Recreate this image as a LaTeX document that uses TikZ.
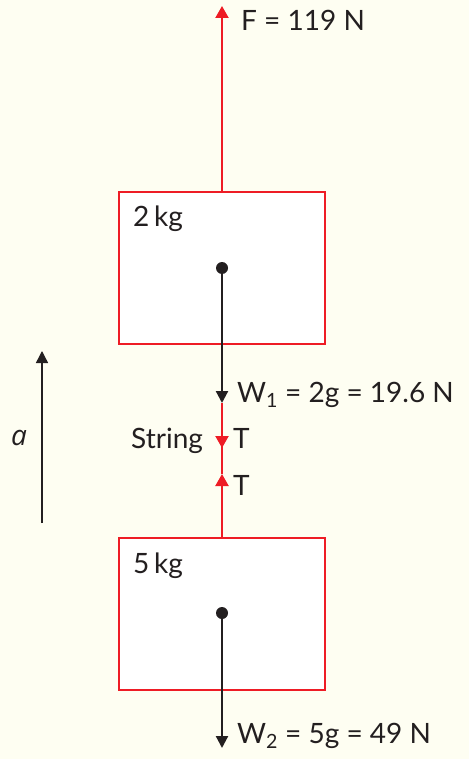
\documentclass[tikz,border=0pt]{standalone}
\usepackage{fontspec}
\setmainfont{Lato}
\newfontfamily\afont{Open Sans}
\usetikzlibrary{arrows.meta}
\definecolor{bg}{HTML}{FEFEF2}
\definecolor{fred}{HTML}{EE1C25}
\definecolor{ink}{HTML}{231F20}
\tikzset{
  boxnode/.style={draw=fred, line width=2.6pt, fill=white, minimum width=206pt, minimum height=152pt, inner sep=0pt},
  dotnode/.style={circle, fill=ink, minimum size=12pt, inner sep=0pt},
  lbl/.style={text=ink, inner sep=0pt, anchor=base west, font=\fontsize{28}{30}\selectfont},
  redarrow/.style={draw=fred, line width=2.2pt, -{Triangle[width=13pt,length=12pt]}},
  blkarrow/.style={draw=ink, line width=2.2pt, -{Triangle[width=12pt,length=12pt]}},
  redline/.style={draw=fred, line width=2.2pt},
}
\begin{document}
\begin{tikzpicture}[x=1pt,y=-1pt]
\fill[bg] (0,0) rectangle (469,759);
\useasboundingbox (0,0) rectangle (469,759);
% boxes
\node[boxnode] (box1) at (222,268) {};
\node[boxnode] (box2) at (222,614) {};
\node[lbl] (m1) at (133,226) {2\,kg};
\node[lbl] (m2) at (133,573) {5\,kg};
% coordinates
\coordinate (Ftip) at (222,6);
\coordinate (W1tip) at (222,403);
\coordinate (Tdown) at (222,448);
\coordinate (Tup) at (222,474);
\coordinate (W2tip) at (222,748);
\coordinate (abot) at (42,523);
\coordinate (atop) at (42,351);
% forces
\draw[redarrow] (box1.north) -- (Ftip);
\draw[redline] (W1tip) -- (Tdown);
\draw[redline] (Tdown) -- (Tup);
\draw[redarrow] (W1tip) -- (Tdown);
\draw[redarrow] (box2.north) -- (Tup);
\node[dotnode] (d1) at (222,268) {};
\node[dotnode] (d2) at (222,613) {};
\draw[blkarrow] (d1.center) -- (W1tip);
\draw[blkarrow] (d2.center) -- (W2tip);
\draw[draw=ink, line width=1.4pt, -{Triangle[width=12pt,length=12pt]}] (abot) -- (atop);
% labels
\node[lbl] (Flbl) at (241,31) {F = 119 N};
\node[lbl] (W1lbl) at (237,402) {W\textsubscript{1} = 2g = 19.6 N};
\node[lbl] (W2lbl) at (237,743) {W\textsubscript{2} = 5g = 49 N};
\node[lbl] (str) at (131,448) {String};
\node[lbl] (T1) at (233,448) {T};
\node[lbl] (T2) at (233,495) {T};
\node[lbl, font=\fontsize{28}{30}\selectfont\afont\itshape] (alab) at (11,445) {a};
\end{tikzpicture}
\end{document}
